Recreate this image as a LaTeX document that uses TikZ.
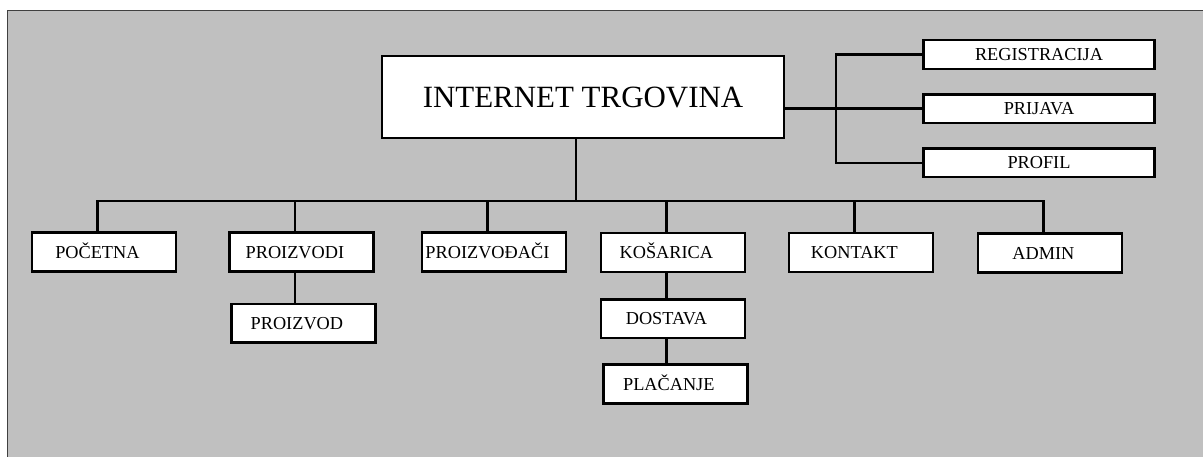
\documentclass[tikz,border=0pt]{standalone}
\usepackage{fontspec}
\setmainfont{Liberation Serif}
\usetikzlibrary{positioning}
\definecolor{pozadina}{HTML}{C0C0C0}
\definecolor{rub}{HTML}{404040}

\begin{document}
\begin{tikzpicture}[x=0.025cm,y=-0.025cm]
    \tikzstyle{every path}=[line width=1.8pt]
    \tikzstyle{blok}=[draw=black,fill=white,line width=1.8pt,font=\fontsize{13pt}{15pt}\selectfont,text height=8.8pt,text depth=0pt,minimum width=3.6cm,minimum height=0.97cm]
    \tikzstyle{dolje}=[blok,execute at begin node={\hspace*{-3.3mm}}]
    \tikzstyle{desni}=[blok,minimum width=5.78cm,minimum height=0.72cm]

    \useasboundingbox (0,0) rectangle (1203,457);
    \draw[rub,fill=pozadina,line width=0.5pt] (7,10) rectangle (1220,470);

    \node[blok,minimum width=10.05cm,minimum height=2.05cm,text height=15pt,font=\fontsize{22pt}{26pt}\selectfont] (glavna) at (583,97) {INTERNET TRGOVINA};

    \node[desni] (registracija) at (1039,54.5) {REGISTRACIJA};
    \node[desni,below=0.57cm of registracija] (prijava) {PRIJAVA};
    \node[desni,below=0.57cm of prijava] (profil) {PROFIL};

    \node[dolje] (pocetna) at (104,252) {POČETNA};
    \node[dolje] (proizvodi) at (301.5,252) {PROIZVODI};
    \node[dolje] (proizvodjaci) at (494,252) {PROIZVOĐAČI};
    \node[dolje] (kosarica) at (673,252.5) {KOŠARICA};
    \node[dolje] (kontakt) at (861,252.5) {KONTAKT};
    \node[dolje] (admin) at (1050,253) {ADMIN};

    \node[dolje,below=0.75cm of proizvodi,xshift=0.05cm] (proizvod) {PROIZVOD};
    \node[dolje,below=0.62cm of kosarica] (dostava) {DOSTAVA};
    \node[dolje,below=0.6cm of dostava,xshift=0.06cm] (placanje) {PLAČANJE};

    \coordinate (sab) at (576,201);
    \coordinate (raz) at (836,107);

    \draw (glavna.south -| sab) -- (sab);
    \foreach \n in {pocetna,proizvodi,proizvodjaci,kosarica,kontakt,admin}{%
      \draw ([xshift=-1.6mm]\n.north) |- (sab) ;}

    \draw (glavna.east |- prijava.west) -- (prijava.west);
    \draw (registracija.west) -| (raz) |- (profil.west);

    \draw ([xshift=-1.6mm]proizvodi.south) -- ([xshift=-1.6mm]proizvodi.south |- proizvod.north);
    \draw ([xshift=-1.6mm]kosarica.south) -- ([xshift=-1.6mm]kosarica.south |- dostava.north);
    \draw ([xshift=-1.6mm]dostava.south) -- ([xshift=-1.6mm]dostava.south |- placanje.north);

\end{tikzpicture}
\end{document}
